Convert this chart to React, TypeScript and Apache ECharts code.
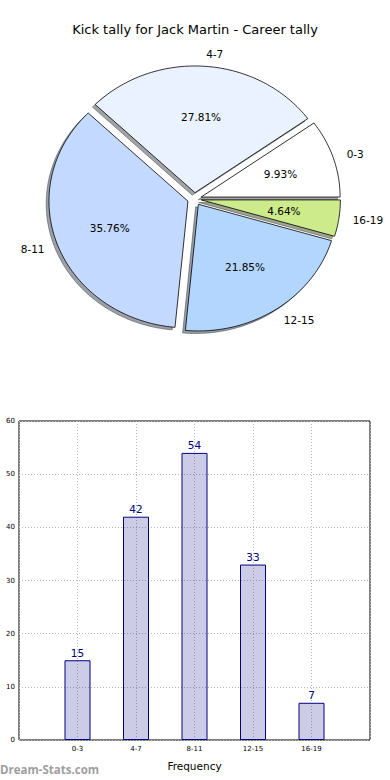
import React, { useEffect, useRef } from "react";
import * as echarts from "echarts";

const titleText = "Kick tally for Jack Martin - Career tally";
const categories = ["0-3", "4-7", "8-11", "12-15", "16-19"];
const counts = [15, 42, 54, 33, 7];
const pieColors = ["#FFFFFF", "#EAF1FF", "#C4D9FF", "#B3D6FF", "#CDEB8B"];
const yMax = 60;
const yStep = 10;

const total = counts.reduce((a, b) => a + b, 0);

// pie geometry (matplotlib-style elliptical pie)
const PCX = 194.5;
const PCY = 199;
const RX = 139;
const RY = 126.7;
const EXPLODE = 0.05;
const SHADOW_DX = -0.02 * RX;
const SHADOW_DY = 0.02 * RY;
const FONT = "DejaVu Sans";

function angles(i: number) {
  let cum = 0;
  for (let k = 0; k < i; k++) cum += counts[k];
  const start = (cum / total) * 2 * Math.PI;
  const end = ((cum + counts[i]) / total) * 2 * Math.PI;
  return { start, end, mid: (start + end) / 2 };
}

function wedgePoints(start: number, end: number, ox: number, oy: number) {
  const pts: number[][] = [[PCX + ox, PCY + oy]];
  const n = Math.max(2, Math.ceil(((end - start) * 180) / Math.PI));
  for (let j = 0; j <= n; j++) {
    const a = start + ((end - start) * j) / n;
    pts.push([PCX + ox + RX * Math.cos(a), PCY + oy - RY * Math.sin(a)]);
  }
  return pts;
}

function shade(hex: string) {
  const r = parseInt(hex.slice(1, 3), 16) * 0.3;
  const g = parseInt(hex.slice(3, 5), 16) * 0.3;
  const b = parseInt(hex.slice(5, 7), 16) * 0.3;
  return `rgba(${Math.round(r)},${Math.round(g)},${Math.round(b)},0.5)`;
}

export default function App() {
  const ref = useRef<HTMLDivElement>(null);
  useEffect(() => {
    if (!ref.current) return;
    const chart = echarts.init(ref.current, null, { renderer: "svg" });
    const option: any = {
      animation: false,
      backgroundColor: "#ffffff",
      title: {
        text: titleText,
        left: "center",
        top: 18,
        textStyle: { fontFamily: FONT, fontSize: 13, fontWeight: "normal", color: "#000" },
      },
      grid: {
        left: 19,
        right: 20,
        top: 421,
        bottom: 40,
        show: true,
        borderColor: "#000",
        borderWidth: 1,
        backgroundColor: "transparent",
      },
      xAxis: {
        type: "value",
        min: 0,
        max: categories.length + 1,
        interval: 1,
        name: "Frequency",
        nameLocation: "middle",
        nameGap: 20,
        nameTextStyle: { fontFamily: FONT, fontSize: 10.5, color: "#000" },
        axisLine: { show: false },
        axisTick: { show: false },
        axisLabel: {
          fontFamily: FONT,
          fontSize: 7,
          color: "#000",
          margin: 5,
          formatter: (v: number) => categories[v - 1] ?? "",
        },
        splitLine: { show: true, lineStyle: { color: "#b8b8b8", type: [1, 2], width: 1 } },
      },
      yAxis: {
        type: "value",
        min: 0,
        max: yMax,
        interval: yStep,
        axisLine: { show: false },
        axisTick: { show: false },
        axisLabel: { fontFamily: FONT, fontSize: 7, color: "#000", margin: 4 },
        splitLine: { show: true, lineStyle: { color: "#b8b8b8", type: [1, 2], width: 1 } },
      },
      graphic: [
        {
          type: "text",
          left: 0,
          top: 763,
          style: {
            text: "Dream-Stats.com",
            fill: "#9e9e9e",
            font: "bold 11.5px 'Open Sans'",
          },
        },
      ],
      series: [
        {
          type: "custom",
          coordinateSystem: "none",
          z: 1,
          data: counts,
          renderItem: (params: any) => {
            const i = params.dataIndex;
            const { start, end, mid } = angles(i);
            const ex = EXPLODE * RX * Math.cos(mid);
            const ey = -EXPLODE * RY * Math.sin(mid);
            const col = shade(pieColors[i]);
            return {
              type: "polygon",
              shape: { points: wedgePoints(start, end, ex + SHADOW_DX, ey + SHADOW_DY) },
              style: { fill: col, stroke: col, lineWidth: 1 },
            };
          },
        },
        {
          type: "custom",
          coordinateSystem: "none",
          z: 2,
          data: counts,
          renderItem: (params: any) => {
            const i = params.dataIndex;
            const { start, end, mid } = angles(i);
            const ex = EXPLODE * RX * Math.cos(mid);
            const ey = -EXPLODE * RY * Math.sin(mid);
            const c = Math.cos(mid);
            const s = Math.sin(mid);
            const lx = PCX + ex + 1.1 * RX * c;
            const ly = PCY + ey - 1.1 * RY * s;
            const px = PCX + ex + 0.6 * RX * c;
            const py = PCY + ey - 0.6 * RY * s;
            const pct = ((counts[i] / total) * 100).toFixed(2) + "%";
            return {
              type: "group",
              children: [
                {
                  type: "polygon",
                  shape: { points: wedgePoints(start, end, ex, ey) },
                  style: { fill: pieColors[i], stroke: "#000", lineWidth: 0.8 },
                },
                {
                  type: "text",
                  x: px,
                  y: py,
                  style: {
                    text: pct,
                    fill: "#000",
                    font: `10.5px '${FONT}'`,
                    align: "center",
                    verticalAlign: "middle",
                  },
                },
                {
                  type: "text",
                  x: lx,
                  y: ly,
                  style: {
                    text: categories[i],
                    fill: "#000",
                    font: `10.5px '${FONT}'`,
                    align: c >= 0 ? "left" : "right",
                    verticalAlign: "middle",
                  },
                },
              ],
            };
          },
        },
        {
          type: "bar",
          data: counts.map((v, i) => [i + 1, v]),
          barWidth: 26,
          itemStyle: { color: "rgba(0,0,128,0.2)", borderColor: "#000080", borderWidth: 1 },
          label: {
            show: true,
            position: "top",
            distance: 2,
            color: "#000080",
            fontFamily: FONT,
            fontSize: 10.5,
          },
        },
      ],
    };
    chart.setOption(option);
    return () => chart.dispose();
  }, []);
  return (
    <div
      ref={ref}
      style={{ position: "fixed", left: 0, top: 0, width: 390, height: 780, background: "#fff" }}
    />
  );
}
